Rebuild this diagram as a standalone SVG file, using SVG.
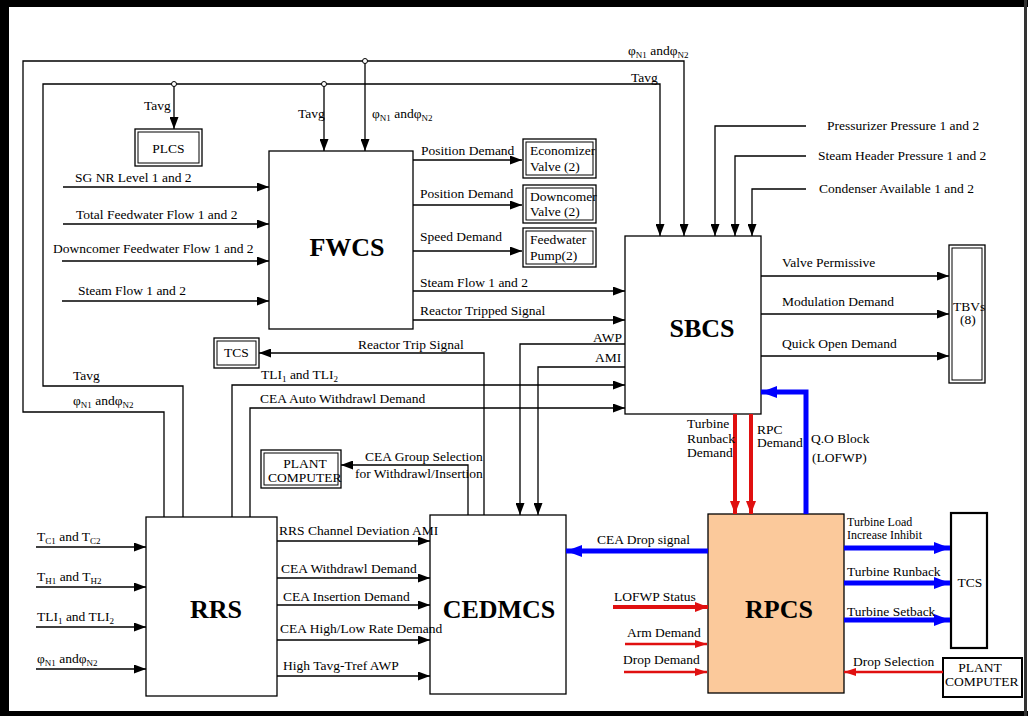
<svg xmlns="http://www.w3.org/2000/svg" width="1028" height="716" viewBox="0 0 1028 716">
<style>
text{font-family:"Liberation Serif","Times New Roman",serif;font-size:13.5px;fill:#000}
.big{font-size:26px;font-weight:bold}
.sub{font-size:9px}
.sm{font-size:12px}
.box{fill:#fff;stroke:#000;stroke-width:1.3}
.in{fill:none;stroke:#000;stroke-width:1}
.ln{fill:none;stroke:#000;stroke-width:1.3}
.bl{fill:none;stroke:#0000ff;stroke-width:5}
.rd{fill:none;stroke:#e01010;stroke-width:4}
.rt{fill:none;stroke:#e01010;stroke-width:2.5}
.dot{fill:#fff;stroke:#000;stroke-width:1}
</style>
<defs>
<marker id="a" viewBox="0 0 12 9" refX="12" refY="4.5" markerWidth="12" markerHeight="9" markerUnits="userSpaceOnUse" orient="auto"><path d="M0,0 L12,4.5 L0,9 z" fill="#000"/></marker>
<marker id="ab" viewBox="0 0 16 12" refX="16" refY="6" markerWidth="16" markerHeight="12" markerUnits="userSpaceOnUse" orient="auto"><path d="M0,0 L16,6 L0,12 z" fill="#0000ff"/></marker>
<marker id="ar" viewBox="0 0 13 10" refX="13" refY="5" markerWidth="13" markerHeight="10" markerUnits="userSpaceOnUse" orient="auto"><path d="M0,0 L13,5 L0,10 z" fill="#e01010"/></marker>
<marker id="ar2" viewBox="0 0 12 8" refX="12" refY="4" markerWidth="12" markerHeight="8" markerUnits="userSpaceOnUse" orient="auto"><path d="M0,0 L12,4 L0,8 z" fill="#e01010"/></marker>
</defs>
<rect width="1028" height="716" fill="#fff"/>
<!-- frame -->
<rect x="0" y="0" width="1028" height="7" fill="#000"/>
<rect x="0" y="0" width="9" height="716" fill="#000"/>
<rect x="0" y="711" width="1028" height="5" fill="#000"/>
<rect x="1024" y="0" width="3" height="716" fill="#333"/>

<g id="PLCS"><rect class="box" x="135" y="129" width="67" height="37"/><rect class="in" x="138" y="132" width="61" height="31"/><text x="168.5" y="153" text-anchor="middle">PLCS</text></g>
<g id="FWCS"><rect class="box" x="269" y="151" width="144" height="178"/><text class="big" x="347" y="256" text-anchor="middle">FWCS</text></g>
<g id="EconomizerValve"><rect class="box" x="523" y="139" width="73" height="39"/><rect class="in" x="526" y="142" width="67" height="33"/><text x="530" y="155">Economizer</text><text x="530" y="171">Valve (2)</text></g>
<g id="DowncomerValve"><rect class="box" x="523" y="185" width="73" height="38"/><rect class="in" x="526" y="188" width="67" height="32"/><text x="530" y="201">Downcomer</text><text x="530" y="216">Valve (2)</text></g>
<g id="FeedwaterPump"><rect class="box" x="523" y="228" width="73" height="39"/><rect class="in" x="526" y="231" width="67" height="33"/><text x="530" y="244">Feedwater</text><text x="530" y="260">Pump(2)</text></g>
<g id="SBCS"><rect class="box" x="625" y="236" width="136" height="178"/><text class="big" x="702" y="337" text-anchor="middle">SBCS</text></g>
<g id="TBVs"><rect class="box" x="949" y="245" width="36" height="138"/><rect class="in" x="952" y="248" width="30" height="132"/><text x="953" y="311">TBVs</text><text x="960" y="324">(8)</text></g>
<g id="TCS1"><rect class="box" x="214" y="338" width="45" height="30"/><rect class="in" x="217" y="341" width="39" height="24"/><text x="236.5" y="357" text-anchor="middle">TCS</text></g>
<g id="PlantComputer1"><rect class="box" x="261" y="450" width="80" height="38"/><rect class="in" x="264" y="453" width="74" height="32"/><text x="305" y="468" text-anchor="middle">PLANT</text><text x="268" y="482">COMPUTER</text></g>
<g id="RRS"><rect class="box" x="146" y="517" width="131" height="179"/><text class="big" x="216" y="618" text-anchor="middle">RRS</text></g>
<g id="CEDMCS"><rect class="box" x="430" y="515" width="136" height="179"/><text class="big" x="499" y="618" text-anchor="middle">CEDMCS</text></g>
<g id="RPCS"><rect x="708" y="514" width="136" height="179" fill="#fbc99b" stroke="#000" stroke-width="1.3"/><text class="big" x="779" y="618" text-anchor="middle">RPCS</text></g>
<g id="TCS2"><rect x="951" y="513" width="36" height="135" fill="#fff" stroke="#000" stroke-width="2.2"/><text x="970" y="587" text-anchor="middle">TCS</text></g>
<g id="PlantComputer2"><rect x="943" y="658" width="79" height="39" fill="#fff" stroke="#000" stroke-width="2"/><text x="980" y="672" text-anchor="middle">PLANT</text><text x="945" y="686">COMPUTER</text></g>

<g id="connectors">
<path class="ln" d="M164,517 V412 H23 V61 H684 V236" marker-end="url(#a)"/>
<path class="ln" d="M365,61 V151" marker-end="url(#a)"/>
<path class="ln" d="M183,517 V386 H43 V84 H660 V236" marker-end="url(#a)"/>
<path class="ln" d="M174,84 V129" marker-end="url(#a)"/>
<path class="ln" d="M324,84 V151" marker-end="url(#a)"/>
<circle class="dot" cx="174" cy="84" r="2.5"/>
<circle class="dot" cx="324" cy="84" r="2.5"/>
<circle class="dot" cx="365" cy="61" r="2.5"/>

<path class="ln" d="M63,187 H269" marker-end="url(#a)"/>
<path class="ln" d="M63,224 H269" marker-end="url(#a)"/>
<path class="ln" d="M62,261 H269" marker-end="url(#a)"/>
<path class="ln" d="M62,301 H269" marker-end="url(#a)"/>

<path class="ln" d="M413,160 H522" marker-end="url(#a)"/>
<path class="ln" d="M413,205 H522" marker-end="url(#a)"/>
<path class="ln" d="M413,251 H522" marker-end="url(#a)"/>
<path class="ln" d="M413,291 H625" marker-end="url(#a)"/>
<path class="ln" d="M413,320 H625" marker-end="url(#a)"/>

<path class="ln" d="M806,126 H715 V236" marker-end="url(#a)"/>
<path class="ln" d="M806,156 H735 V236" marker-end="url(#a)"/>
<path class="ln" d="M806,189 H752 V236" marker-end="url(#a)"/>

<path class="ln" d="M761,276 H949" marker-end="url(#a)"/>
<path class="ln" d="M761,314 H949" marker-end="url(#a)"/>
<path class="ln" d="M761,356 H949" marker-end="url(#a)"/>

<path class="ln" d="M484,515 V353 H259" marker-end="url(#a)"/>
<path class="ln" d="M232,517 V385 H625" marker-end="url(#a)"/>
<path class="ln" d="M250,517 V408 H625" marker-end="url(#a)"/>
<path class="ln" d="M625,344 H520 V515" marker-end="url(#a)"/>
<path class="ln" d="M625,367 H538 V515" marker-end="url(#a)"/>
<path class="ln" d="M468,515 V465 H341" marker-end="url(#a)"/>

<path class="ln" d="M36,547 H146" marker-end="url(#a)"/>
<path class="ln" d="M36,587 H146" marker-end="url(#a)"/>
<path class="ln" d="M36,627 H146" marker-end="url(#a)"/>
<path class="ln" d="M36,669 H146" marker-end="url(#a)"/>

<path class="ln" d="M277,541 H430" marker-end="url(#a)"/>
<path class="ln" d="M277,578 H430" marker-end="url(#a)"/>
<path class="ln" d="M277,605 H430" marker-end="url(#a)"/>
<path class="ln" d="M277,640 H430" marker-end="url(#a)"/>
<path class="ln" d="M277,676 H430" marker-end="url(#a)"/>

<path class="bl" d="M708,551 H566" marker-end="url(#ab)"/>
<path class="rd" d="M735,414 V514" marker-end="url(#ar)"/>
<path class="rd" d="M751,414 V514" marker-end="url(#ar)"/>
<path class="bl" d="M806,514 V392 H761" marker-end="url(#ab)"/>
<path class="rd" d="M613,607 H708" marker-end="url(#ar)"/>
<path class="rt" d="M625,644 H707" marker-end="url(#ar2)"/>
<path class="rt" d="M624,672 H707" marker-end="url(#ar2)"/>
<path class="bl" d="M844,548 H950" marker-end="url(#ab)"/>
<path class="bl" d="M844,583 H950" marker-end="url(#ab)"/>
<path class="bl" d="M844,620 H950" marker-end="url(#ab)"/>
<path class="rt" d="M943,672 H844" marker-end="url(#ar2)"/>
</g>

<g id="labels">
<text x="144" y="110">Tavg</text>
<text x="298" y="118">Tavg</text>
<text x="372" y="118">φ<tspan class="sub" dy="3">N1</tspan><tspan dy="-3"> and</tspan>φ<tspan class="sub" dy="3">N2</tspan></text>
<text x="628" y="55">φ<tspan class="sub" dy="3">N1</tspan><tspan dy="-3"> and</tspan>φ<tspan class="sub" dy="3">N2</tspan></text>
<text x="631" y="82">Tavg</text>
<text x="75" y="182">SG NR Level 1 and 2</text>
<text x="76" y="219">Total Feedwater Flow 1 and 2</text>
<text x="53" y="253">Downcomer Feedwater Flow 1 and 2</text>
<text x="78" y="295">Steam Flow 1 and 2</text>
<text x="421" y="155">Position Demand</text>
<text x="420" y="198">Position Demand</text>
<text x="420" y="241">Speed Demand</text>
<text x="420" y="287">Steam Flow 1 and 2</text>
<text x="420" y="315">Reactor Tripped Signal</text>
<text x="827" y="130">Pressurizer Pressure 1 and 2</text>
<text x="818" y="160">Steam Header Pressure 1 and 2</text>
<text x="819" y="193">Condenser Available 1 and 2</text>
<text x="782" y="267">Valve Permissive</text>
<text x="782" y="306">Modulation Demand</text>
<text x="782" y="348">Quick Open Demand</text>
<text x="358" y="349">Reactor Trip Signal</text>
<text x="593" y="342">AWP</text>
<text x="595" y="362">AMI</text>
<text x="261" y="379">TLI<tspan class="sub" dy="3">1</tspan><tspan dy="-3"> and TLI</tspan><tspan class="sub" dy="3">2</tspan></text>
<text x="260" y="403">CEA Auto Withdrawl Demand</text>
<text x="73" y="380">Tavg</text>
<text x="73" y="405">φ<tspan class="sub" dy="3">N1</tspan><tspan dy="-3"> and</tspan>φ<tspan class="sub" dy="3">N2</tspan></text>
<text x="365" y="461">CEA Group Selection</text>
<text x="355" y="478">for Withdrawl/Insertion</text>
<text x="687" y="428">Turbine</text>
<text x="687" y="443">Runback</text>
<text x="687" y="457">Demand</text>
<text x="757" y="434">RPC</text>
<text x="757" y="447">Demand</text>
<text x="811" y="443">Q.O Block</text>
<text x="812" y="462">(LOFWP)</text>
<text x="37" y="541">T<tspan class="sub" dy="3">C1</tspan><tspan dy="-3"> and T</tspan><tspan class="sub" dy="3">C2</tspan></text>
<text x="37" y="581">T<tspan class="sub" dy="3">H1</tspan><tspan dy="-3"> and T</tspan><tspan class="sub" dy="3">H2</tspan></text>
<text x="37" y="621">TLI<tspan class="sub" dy="3">1</tspan><tspan dy="-3"> and TLI</tspan><tspan class="sub" dy="3">2</tspan></text>
<text x="37" y="663">φ<tspan class="sub" dy="3">N1</tspan><tspan dy="-3"> and</tspan>φ<tspan class="sub" dy="3">N2</tspan></text>
<text x="279" y="535">RRS Channel Deviation AMI</text>
<text x="281" y="573">CEA Withdrawl Demand</text>
<text x="283" y="601">CEA Insertion Demand</text>
<text x="280" y="633">CEA High/Low Rate Demand</text>
<text x="283" y="670">High Tavg-Tref AWP</text>
<text x="597" y="544">CEA Drop signal</text>
<text x="614" y="601">LOFWP Status</text>
<text x="627" y="637">Arm Demand</text>
<text x="623" y="664">Drop Demand</text>
<text class="sm" x="847" y="526">Turbine Load</text>
<text class="sm" x="847" y="539">Increase Inhibit</text>
<text x="847" y="576">Turbine Runback</text>
<text x="847" y="616">Turbine Setback</text>
<text x="853" y="666">Drop Selection</text>
</g>
</svg>
